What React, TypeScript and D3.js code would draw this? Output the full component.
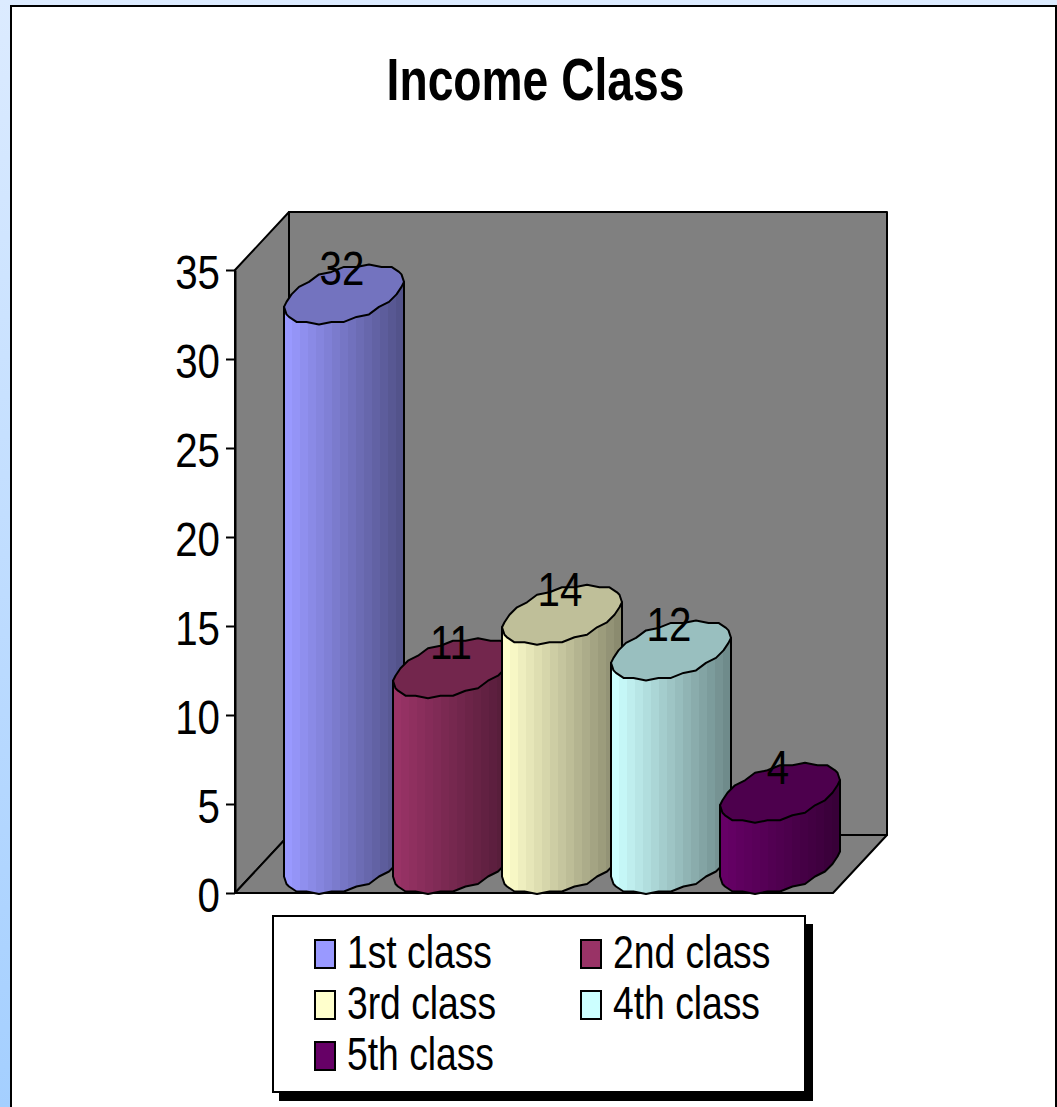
import React, { useEffect, useRef } from "react";
import * as d3 from "d3";

const categories = ["1st class", "2nd class", "3rd class", "4th class", "5th class"];
const values = [32, 11, 14, 12, 4];
const sideColors = ["#9999FF", "#993366", "#FFFFCC", "#CCFFFF", "#660066"];
const topColors = ["#7373BF", "#73264D", "#BFBF99", "#99BFBF", "#4D004D"];
const yTicks = [0, 5, 10, 15, 20, 25, 30, 35];

const FONT = "'Liberation Sans', Arial, sans-serif";
const SQUEEZE = 0.84;
const STROKE = 2;

function App() {
  const ref = useRef<SVGSVGElement>(null);

  useEffect(() => {
    const svg = d3.select(ref.current);
    svg.selectAll("*").remove();

    const depthX = 54;
    const depthY = 58;
    const x = d3.scaleBand().domain(categories).range([283, 828]).paddingInner(0);
    const y = d3.scaleLinear().domain([0, 35]).range([893, 270]);
    const left = x.range()[0] - 48;
    const right = left + 598;

    const defs = svg.append("defs");
    const bg = defs.append("linearGradient").attr("id", "page").attr("x1", 0).attr("y1", 0).attr("x2", 0).attr("y2", 1);
    bg.append("stop").attr("offset", 0).attr("stop-color", "#DCEBFF");
    bg.append("stop").attr("offset", 1).attr("stop-color", "#A4CFFF");

    svg.append("rect").attr("width", 1057).attr("height", 1107).attr("fill", "url(#page)");
    svg.append("rect").attr("x", 11).attr("y", 6).attr("width", 1045).attr("height", 1120)
      .attr("fill", "#fff").attr("stroke", "#000").attr("stroke-width", 2);

    svg.append("text").attr("transform", "translate(535.5,100) scale(0.77,1)")
      .attr("text-anchor", "middle").attr("font-family", FONT).attr("font-weight", "bold")
      .attr("font-size", 60).text("Income Class");

    // walls
    const wall = (pts: [number, number][]) => svg.append("path").attr("d", d3.line()(pts) + "Z")
      .attr("fill", "#808080").attr("stroke", "#000").attr("stroke-width", STROKE).attr("stroke-linejoin", "round");
    const y0 = y(0);
    const yMax = y(35);
    wall([[left + depthX, yMax - depthY], [right + depthX, yMax - depthY], [right + depthX, y0 - depthY], [left + depthX, y0 - depthY]]);
    wall([[left, yMax], [left + depthX, yMax - depthY], [left + depthX, y0 - depthY], [left, y0]]);
    wall([[left, y0], [left + depthX, y0 - depthY], [right + depthX, y0 - depthY], [right, y0]]);

    // value axis
    const axis = svg.append("g").attr("transform", `translate(${left},0)`)
      .call(d3.axisLeft(y).tickValues(yTicks).tickSize(9).tickSizeOuter(0).tickPadding(0));
    axis.selectAll("path,line").attr("stroke", "#000").attr("stroke-width", STROKE);
    axis.selectAll("text")
      .attr("font-family", FONT).attr("font-size", 48).attr("fill", "#000").attr("text-anchor", "end")
      .attr("dy", null).attr("x", null)
      .attr("transform", `translate(-15,18) scale(${SQUEEZE},1)`);

    // cylinders, left to right so later ones overlap earlier ones
    const halfW = 52;
    const halfDx = 26;
    const halfDy = depthY / 2;
    const snap = (v: number) => Math.round(v / 2.5) * 2.5;
    const fat = (v: number) => Math.sign(v) * Math.pow(Math.abs(v), 0.92);
    // the reference's rims are coarse, faceted outlines
    const rimOffsets: [number, number][] = d3.range(0, 28).map(i => {
      const t = (i / 28) * Math.PI * 2;
      const c = fat(Math.cos(t));
      const s = fat(Math.sin(t));
      return [snap(halfW * c + halfDx * s), snap(-halfDy * s)];
    });
    const iLeft = d3.range(28).filter(i => i > 14).reduce((a, b) => (rimOffsets[b][0] < rimOffsets[a][0] ? b : a), 15);
    const iRight = d3.range(28).filter(i => i < 7).reduce((a, b) => (rimOffsets[b][0] > rimOffsets[a][0] ? b : a), 0);
    const lowerOffsets: [number, number][] = [...rimOffsets.slice(iLeft), ...rimOffsets.slice(0, iRight + 1)];
    const line = d3.line();

    categories.forEach((c, i) => {
      const cx = x(c)! + 61;
      const topY = y(values[i]) - halfDy;
      const baseY = y0 - halfDy;

      const grad = defs.append("linearGradient").attr("id", `side${i}`);
      const ramp = d3.interpolateRgb(sideColors[i], d3.rgb(sideColors[i]).darker(1.7).formatHex());
      const steps = 15;
      d3.range(steps).forEach(s => {
        grad.append("stop").attr("offset", s / steps).attr("stop-color", ramp(s / (steps - 1)));
        grad.append("stop").attr("offset", (s + 1) / steps).attr("stop-color", ramp(s / (steps - 1)));
      });

      const body: [number, number][] = [
        [cx + rimOffsets[iLeft][0], topY + rimOffsets[iLeft][1]],
        ...lowerOffsets.map(([dx, dy]): [number, number] => [cx + dx, baseY + dy]),
        [cx + rimOffsets[iRight][0], topY + rimOffsets[iRight][1]],
      ];
      svg.append("path").attr("d", line(body) + "Z")
        .attr("fill", `url(#side${i})`).attr("stroke", "#000").attr("stroke-width", STROKE).attr("stroke-linejoin", "round");

      svg.append("path").attr("d", line(rimOffsets.map(([dx, dy]): [number, number] => [cx + dx, topY + dy])) + "Z")
        .attr("fill", topColors[i]).attr("stroke", "#000").attr("stroke-width", STROKE).attr("stroke-linejoin", "round");
    });

    // value labels sit on top of every cylinder
    categories.forEach((c, i) => {
      svg.append("text")
        .attr("transform", `translate(${x(c)! + 59},${y(values[i]) - 38}) scale(${SQUEEZE},1)`)
        .attr("text-anchor", "middle").attr("font-family", FONT).attr("font-size", 48)
        .text(values[i]);
    });

    // legend
    svg.append("rect").attr("x", 279).attr("y", 924).attr("width", 534).attr("height", 177).attr("fill", "#000");
    svg.append("rect").attr("x", 273).attr("y", 916).attr("width", 532).attr("height", 176)
      .attr("fill", "#fff").attr("stroke", "#000").attr("stroke-width", STROKE);
    categories.forEach((c, i) => {
      const col = i % 2;
      const row = Math.floor(i / 2);
      const g = svg.append("g").attr("transform", `translate(${315 + col * 266},${940 + row * 51})`);
      g.append("rect").attr("width", 20).attr("height", 28).attr("fill", sideColors[i])
        .attr("stroke", "#000").attr("stroke-width", STROKE);
      g.append("text").attr("transform", "translate(32,28) scale(0.81,1)")
        .attr("font-family", FONT).attr("font-size", 46).text(c);
    });
  }, []);

  return (
    <svg ref={ref} width={1057} height={1107} style={{ position: "absolute", left: 0, top: 0, display: "block" }} />
  );
}

export default App;
